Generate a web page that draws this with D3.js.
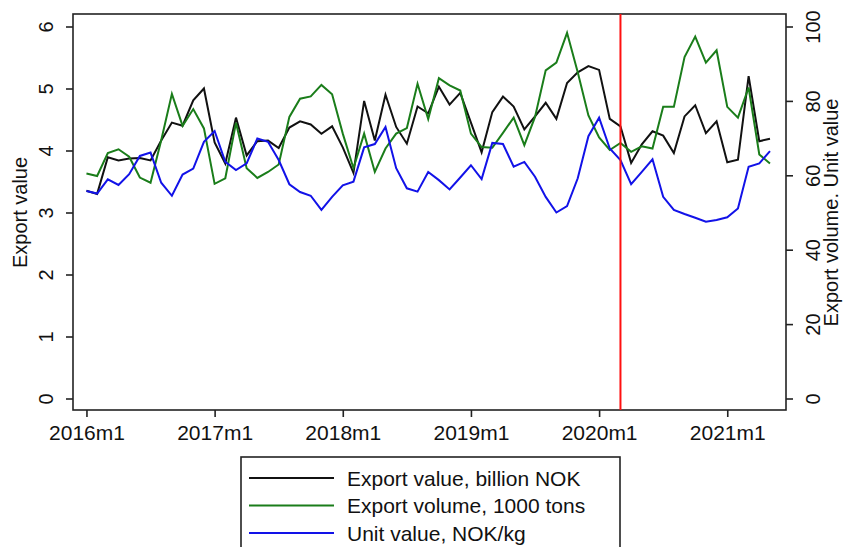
<!DOCTYPE html>
<html>
<head>
<meta charset="utf-8">
<script src="https://cdn.jsdelivr.net/npm/d3@7"></script>
<style>
  html, body { margin: 0; padding: 0; background: #fff; }
  svg { display: block; font-family: "Liberation Sans", Arial, sans-serif; }
  .axis path, .axis line { stroke: #222; stroke-width: 1.6; }
  .axis text { fill: #111; font-size: 20px; }
  .title { fill: #111; font-size: 20px; }
  .legend text { fill: #111; font-size: 20px; }
</style>
</head>
<body>
<svg id="chart" width="843" height="547"></svg>
<script>
// monthly observations, 2016m1 .. 2021m5
const startYear = 2016
const exportValue = [
  3.35, 3.30, 3.89, 3.84, 3.87, 3.88, 3.84, 4.16, 4.45, 4.40, 4.81, 5.00,
  4.13, 3.79, 4.53, 3.92, 4.15, 4.16, 4.04, 4.37, 4.47, 4.42, 4.27, 4.39,
  4.05, 3.64, 4.80, 4.16, 4.90, 4.38, 4.11, 4.71, 4.60, 5.03, 4.74, 4.93,
  4.45, 3.97, 4.62, 4.87, 4.71, 4.34, 4.55, 4.77, 4.51, 5.09, 5.26, 5.36,
  5.30, 4.51, 4.39, 3.80, 4.10, 4.31, 4.24, 3.96, 4.55, 4.73, 4.28, 4.47,
  3.81, 3.85, 5.20, 4.15, 4.19
]
const exportVolume = [
  60.5, 59.8, 66.0, 67.0, 65.0, 59.4, 58.0, 69.4, 81.9, 73.3, 77.8, 72.6,
  57.7, 59.2, 74.1, 61.9, 59.3, 60.9, 62.9, 75.7, 80.6, 81.2, 84.3, 81.8,
  71.2, 61.9, 71.2, 60.9, 67.2, 71.2, 72.7, 84.6, 75.1, 86.1, 84.2, 82.8,
  71.2, 67.6, 67.4, 71.4, 75.5, 68.1, 75.7, 88.2, 90.3, 98.3, 87.7, 76.1,
  70.2, 66.8, 68.7, 66.3, 67.8, 67.2, 78.4, 78.4, 91.8, 97.3, 90.3, 93.6,
  78.4, 75.5, 83.6, 65.6, 63.2
]
const unitValue = [
  55.8, 55.1, 58.9, 57.4, 60.3, 65.2, 66.1, 58.0, 54.5, 60.2, 61.8, 69.0,
  71.9, 63.6, 61.4, 63.2, 69.9, 69.0, 64.1, 57.6, 55.5, 54.5, 50.7, 54.2,
  57.3, 58.3, 67.5, 68.4, 73.0, 61.9, 56.5, 55.6, 60.9, 58.7, 56.2, 59.4,
  62.7, 59.0, 68.7, 68.4, 62.3, 63.6, 59.6, 54.2, 50.0, 51.7, 59.2, 70.5,
  75.5, 67.2, 64.1, 57.6, 60.9, 64.3, 54.2, 50.7, 49.6, 48.6, 47.5, 48.0,
  48.7, 51.1, 62.3, 63.2, 66.5
]
const xTicks = [0, 12, 24, 36, 48, 60]
const xTickLabels = ['2016m1', '2017m1', '2018m1', '2019m1', '2020m1', '2021m1']
const leftTicks = [0, 1, 2, 3, 4, 5, 6]
const rightTicks = [0, 20, 40, 60, 80, 100]
const markerMonth = 50 // 2020m3

const legendItems = [
  { label: 'Export value, billion NOK', color: '#111111' },
  { label: 'Export volume, 1000 tons', color: '#1a7d1a' },
  { label: 'Unit value, NOK/kg', color: '#1212e8' }
]

const svg = d3.select('#chart')
const plot = { left: 73, right: 786, top: 14, bottom: 410 }

const x = d3.scaleLinear().domain([-1.26, 65.5]).range([plot.left, plot.right])
const yLeft = d3.scaleLinear().domain([0, 6]).range([398.5, 26.5])
const yRight = d3.scaleLinear().domain([0, 100]).range([398.5, 26.5])

// frame
svg.append('rect')
  .attr('x', plot.left).attr('y', plot.top)
  .attr('width', plot.right - plot.left).attr('height', plot.bottom - plot.top)
  .attr('fill', 'none').attr('stroke', '#222').attr('stroke-width', 1.6)

// x axis
svg.append('g')
  .attr('class', 'axis')
  .attr('transform', `translate(0,${plot.bottom})`)
  .call(d3.axisBottom(x).tickValues(xTicks).tickSize(7).tickSizeOuter(0)
    .tickFormat((d, i) => xTickLabels[i]))
  .call((g) => g.select('.domain').remove())
  .call((g) => g.selectAll('.tick text').attr('y', 15).attr('dy', '0.71em').style('font-size', '21px'))

// left axis
svg.append('g')
  .attr('class', 'axis')
  .attr('transform', `translate(${plot.left},0)`)
  .call(d3.axisLeft(yLeft).tickValues(leftTicks).tickSize(7).tickSizeOuter(0)
    .tickFormat(d3.format('d')))
  .call((g) => g.select('.domain').remove())
  .call((g) => g.selectAll('.tick text')
    .attr('transform', 'rotate(-90)')
    .attr('x', 0).attr('y', -27).attr('dy', null)
    .attr('text-anchor', 'middle')
    .attr('dominant-baseline', 'central'))

// right axis
svg.append('g')
  .attr('class', 'axis')
  .attr('transform', `translate(${plot.right},0)`)
  .call(d3.axisRight(yRight).tickValues(rightTicks).tickSize(7).tickSizeOuter(0)
    .tickFormat(d3.format('d')))
  .call((g) => g.select('.domain').remove())
  .call((g) => g.selectAll('.tick text')
    .attr('transform', 'rotate(-90)')
    .attr('x', 0).attr('y', 27).attr('dy', null)
    .attr('text-anchor', 'middle')
    .attr('dominant-baseline', 'central'))

// axis titles
svg.append('text')
  .attr('class', 'title')
  .attr('transform', `translate(20,${(yLeft(0) + yLeft(6)) / 2}) rotate(-90)`)
  .attr('text-anchor', 'middle')
  .attr('dominant-baseline', 'central')
  .text('Export value')

svg.append('text')
  .attr('class', 'title')
  .attr('transform', `translate(831,${(yRight(0) + yRight(100)) / 2}) rotate(-90)`)
  .attr('text-anchor', 'middle')
  .attr('dominant-baseline', 'central')
  .text('Export volume. Unit value')

// series
const lineLeft = d3.line().x((d, i) => x(i)).y((d) => yLeft(d))
const lineRight = d3.line().x((d, i) => x(i)).y((d) => yRight(d))

svg.append('path').datum(exportValue)
  .attr('d', lineLeft).attr('fill', 'none')
  .attr('stroke', legendItems[0].color).attr('stroke-width', 2)

svg.append('path').datum(exportVolume)
  .attr('d', lineRight).attr('fill', 'none')
  .attr('stroke', legendItems[1].color).attr('stroke-width', 2)

svg.append('path').datum(unitValue)
  .attr('d', lineRight).attr('fill', 'none')
  .attr('stroke', legendItems[2].color).attr('stroke-width', 2)

// covid marker
svg.append('line')
  .attr('x1', x(markerMonth)).attr('x2', x(markerMonth))
  .attr('y1', plot.top).attr('y2', plot.bottom)
  .attr('stroke', '#ff1010').attr('stroke-width', 2)

// legend
const legend = svg.append('g').attr('class', 'legend')
legend.append('rect')
  .attr('x', 241).attr('y', 457).attr('width', 379).attr('height', 100)
  .attr('fill', '#fff').attr('stroke', '#222').attr('stroke-width', 1.6)

legend.selectAll('g.item')
  .data(legendItems)
  .join('g')
  .attr('class', 'item')
  .attr('transform', (d, i) => `translate(249,${478 + i * 27.5})`)
  .call((g) => g.append('line')
    .attr('x1', 0).attr('x2', 85)
    .attr('stroke', (d) => d.color).attr('stroke-width', 2))
  .call((g) => g.append('text')
    .attr('x', 98).attr('dominant-baseline', 'central')
    .style('font-size', '21px')
    .text((d) => d.label))
</script>
</body>
</html>
